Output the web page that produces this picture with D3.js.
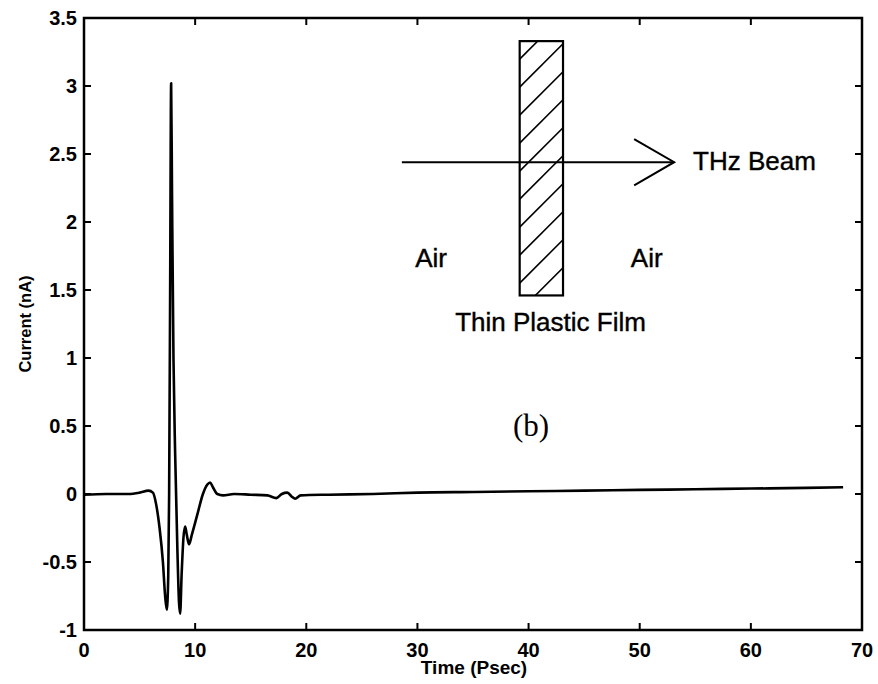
<!DOCTYPE html>
<html>
<head>
<meta charset="utf-8">
<script src="https://cdn.jsdelivr.net/npm/d3@7"></script>
<style>
html,body{margin:0;padding:0;background:#fff;}
svg{display:block;}
</style>
</head>
<body>
<svg id="chart" width="878" height="684"></svg>
<script>
// ---- data ----
const timePs = [0, 2, 4, 5, 5.8, 6.2, 6.5, 6.8, 7.1, 7.3, 7.45, 7.58, 7.66, 7.75, 7.84, 7.92, 8.05, 8.2, 8.4, 8.55, 8.65, 8.78, 8.95, 9.1, 9.25, 9.45, 9.7, 10.2, 10.7, 11.1, 11.35, 11.6, 12, 12.5, 13.5, 15, 16.5, 17.3, 17.8, 18.3, 18.7, 19.0, 19.5, 22, 26, 30, 35, 40, 45, 50, 55, 60, 65, 68.3];
const currentNA = [-0.005, 0, 0, 0.01, 0.025, 0.01, -0.08, -0.25, -0.5, -0.75, -0.85, -0.6, 0.0, 1.5, 3.02, 2.2, 1.0, 0.3, -0.4, -0.8, -0.88, -0.6, -0.32, -0.24, -0.3, -0.37, -0.3, -0.15, 0.0, 0.07, 0.085, 0.05, 0.0, -0.01, 0.0, -0.005, -0.01, -0.03, 0.0, 0.01, -0.02, -0.035, -0.01, -0.005, 0.0, 0.01, 0.015, 0.02, 0.025, 0.03, 0.035, 0.04, 0.045, 0.05];
const xTicks = [0, 10, 20, 30, 40, 50, 60, 70];
const yTicks = [-1, -0.5, 0, 0.5, 1, 1.5, 2, 2.5, 3, 3.5];
const xLabel = "Time (Psec)";
const yLabel = "Current (nA)";
// inset diagram annotation (in data units)
const filmBox = {x0: 39.2, x1: 43.1, y0: 1.46, y1: 3.33};
const beam = {x0: 28.6, x1: 53.1, y: 2.44, headBack: 49.5, headHalf: 0.17};
const insetTexts = [
  {text: "THz Beam", x: 54.8, y: 2.38, anchor: "start"},
  {text: "Air", x: 29.8, y: 1.67, anchor: "start"},
  {text: "Air", x: 49.2, y: 1.67, anchor: "start"},
  {text: "Thin Plastic Film", x: 33.4, y: 1.2, anchor: "start"}
];
const panelLabel = {text: "(b)", x: 38.6, y: 0.43};

// ---- layout ----
const svg = d3.select("#chart");
const L = 84, R = 862, T = 18, B = 630;
const x = d3.scaleLinear().domain([0, 70]).range([L, R]);
const y = d3.scaleLinear().domain([-1, 3.5]).range([B, T]);

const font = "'Liberation Sans', Arial, sans-serif";
const tickLen = 7;

// ticks (inward, all four sides)
const g = svg.append("g").attr("stroke", "#000").attr("stroke-width", 2);
xTicks.forEach(v => {
  g.append("line").attr("x1", x(v)).attr("x2", x(v)).attr("y1", B).attr("y2", B - tickLen);
  g.append("line").attr("x1", x(v)).attr("x2", x(v)).attr("y1", T).attr("y2", T + tickLen);
});
yTicks.forEach(v => {
  g.append("line").attr("x1", L).attr("x2", L + tickLen).attr("y1", y(v)).attr("y2", y(v));
  g.append("line").attr("x1", R).attr("x2", R - tickLen).attr("y1", y(v)).attr("y2", y(v));
});
// frame
svg.append("rect").attr("x", L).attr("y", T).attr("width", R - L).attr("height", B - T)
  .attr("fill", "none").attr("stroke", "#000").attr("stroke-width", 2.5);

// tick labels
svg.append("g").selectAll("text").data(xTicks).join("text")
  .attr("x", d => x(d)).attr("y", 657)
  .attr("text-anchor", "middle")
  .attr("font-family", font).attr("font-weight", "bold").attr("font-size", 20)
  .text(d => d3.format("")(d));
svg.append("g").selectAll("text").data(yTicks).join("text")
  .attr("x", 77).attr("y", d => y(d) + 7)
  .attr("text-anchor", "end")
  .attr("font-family", font).attr("font-weight", "bold").attr("font-size", 20)
  .text(d => String(d));

// axis labels
svg.append("text").attr("x", (L + R) / 2 + 1).attr("y", 674)
  .attr("text-anchor", "middle").attr("font-family", font).attr("font-weight", "bold")
  .attr("font-size", 19).text(xLabel);
svg.append("text").attr("transform", `translate(31,${(T + B) / 2}) rotate(-90)`)
  .attr("text-anchor", "middle").attr("font-family", font).attr("font-weight", "bold")
  .attr("font-size", 16.5).text(yLabel);

// data curve
const pts = timePs.map((t, i) => [t, currentNA[i]]);
svg.append("path").datum(pts)
  .attr("fill", "none").attr("stroke", "#000").attr("stroke-width", 2.6)
  .attr("stroke-linejoin", "round")
  .attr("d", d3.line().x(d => x(d[0])).y(d => y(d[1])).curve(d3.curveMonotoneX));

// inset: film rectangle with hatching
const bx0 = x(filmBox.x0), bx1 = x(filmBox.x1), by0 = y(filmBox.y1), by1 = y(filmBox.y0);
const defs = svg.append("defs");
defs.append("clipPath").attr("id", "filmClip").append("rect")
  .attr("x", bx0).attr("y", by0).attr("width", bx1 - bx0).attr("height", by1 - by0);
const hatch = svg.append("g").attr("clip-path", "url(#filmClip)")
  .attr("stroke", "#000").attr("stroke-width", 1.6);
const w = bx1 - bx0;
for (let yy = by0 - 10; yy < by1 + w + 30; yy += 28) {
  hatch.append("line").attr("x1", bx0).attr("y1", yy).attr("x2", bx1).attr("y2", yy - w);
}
svg.append("rect").attr("x", bx0).attr("y", by0).attr("width", w).attr("height", by1 - by0)
  .attr("fill", "none").attr("stroke", "#000").attr("stroke-width", 2.2);

// beam arrow
svg.append("line").attr("x1", x(beam.x0)).attr("x2", x(beam.x1))
  .attr("y1", y(beam.y)).attr("y2", y(beam.y)).attr("stroke", "#000").attr("stroke-width", 2);
svg.append("path")
  .attr("d", `M${x(beam.headBack)},${y(beam.y + beam.headHalf)} L${x(beam.x1)},${y(beam.y)} L${x(beam.headBack)},${y(beam.y - beam.headHalf)}`)
  .attr("fill", "none").attr("stroke", "#000").attr("stroke-width", 2);

// inset texts
svg.append("g").selectAll("text").data(insetTexts).join("text")
  .attr("x", d => x(d.x)).attr("y", d => y(d.y))
  .attr("text-anchor", d => d.anchor)
  .attr("font-family", font).attr("font-size", 26)
  .attr("stroke", "#000").attr("stroke-width", 0.4)
  .text(d => d.text);

svg.append("text").attr("x", x(panelLabel.x)).attr("y", y(panelLabel.y))
  .attr("font-family", "'Liberation Serif', 'Times New Roman', serif").attr("font-size", 31)
  .text(panelLabel.text);
</script>
</body>
</html>
